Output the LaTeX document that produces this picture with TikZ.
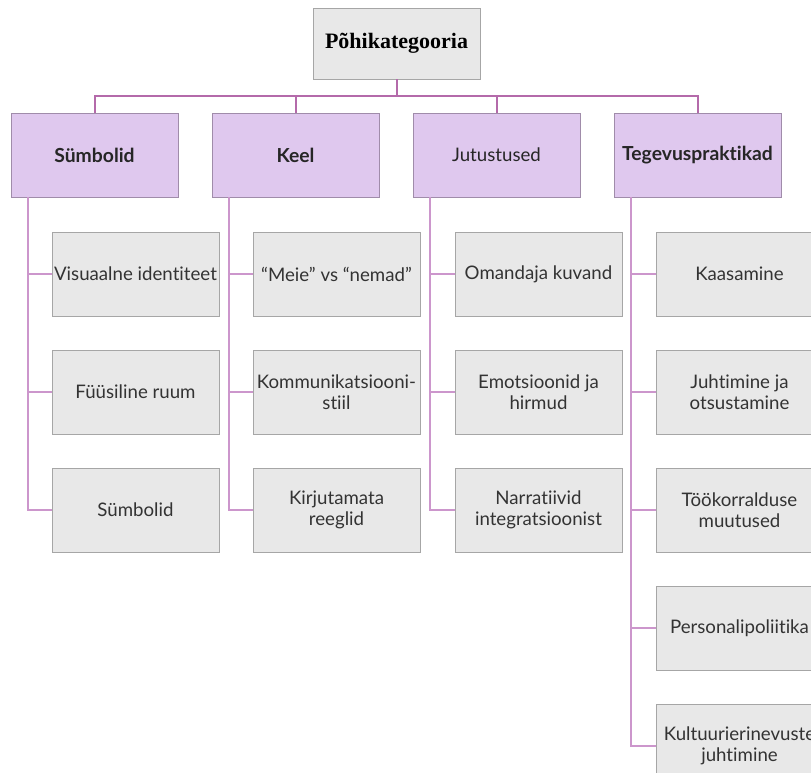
\documentclass[tikz,border=0pt]{standalone}
\usepackage{fontspec}
\setmainfont{Lato}[Ligatures={NoCommon,NoRare}]
\newfontfamily\rootfont{Liberation Serif}
\definecolor{boxgray}{HTML}{E8E8E8}
\definecolor{boxline}{HTML}{A6A6A6}
\definecolor{catfill}{HTML}{DFC8EE}
\definecolor{catline}{HTML}{A08CAA}
\definecolor{buscol}{HTML}{B46AAA}
\definecolor{linkcol}{HTML}{CC96CC}
\begin{document}
\begin{tikzpicture}[x=0.75pt,y=-0.75pt,
  rootbox/.style={draw=boxline,fill=boxgray,minimum width=125.25pt,minimum height=53.25pt,font=\rootfont\bfseries\fontsize{16.5}{19}\selectfont},
  catbox/.style={draw=catline,fill=catfill,minimum width=125.25pt,minimum height=63pt,text=black!85,font=\fontsize{14}{16}\selectfont},
  catbold/.style={catbox,font=\bfseries\fontsize{14.5}{16}\selectfont},
  itembox/.style={draw=boxline,fill=boxgray,minimum width=125.25pt,minimum height=63pt,inner xsep=0.5pt,align=center,text=black!80,font=\fontsize{14}{16}\selectfont},
  bus/.style={draw=buscol,line width=1.5pt},
  link/.style={draw=linkcol,line width=1.5pt}]
\useasboundingbox (0,0) rectangle (811,772);
\clip (0,0) rectangle (811,772);
% top level
\node[rootbox] (root) at (396.5,43.5) {Põhikategooria};
\node[catbold] (c1) at (94.5,155) {Sümbolid};
\node[catbold] (c2) at (295.5,155) {Keel};
\node[catbox] (c3) at (496.5,155) {Jutustused};
\node[catbold] (c4) at (697.5,155) {Tegevuspraktikad};
\foreach \c in {c1,c2,c3,c4}
\draw[bus] (root.south) -- ++(0,17) -| (\c.north);
% children
\foreach \t [count=\i] in {Visuaalne identiteet, Füüsiline ruum, Sümbolid}
\node[itembox] (a\i) at (135.5,{156+118*\i}) {\t};
\foreach \t [count=\i] in {“Meie” vs “nemad”, {Kommunikatsiooni-\\stiil}, {Kirjutamata\\reeglid}}
\node[itembox] (b\i) at (336.5,{156+118*\i}) {\t};
\foreach \t [count=\i] in {Omandaja kuvand, {Emotsioonid ja\\hirmud}, {Narratiivid\\integratsioonist}}
\node[itembox] (d\i) at (538.5,{156+118*\i}) {\t};
\foreach \t [count=\i] in {Kaasamine, {Juhtimine ja\\otsustamine}, {Töökorralduse\\muutused}, Personalipoliitika, {Kultuurierinevuste\\juhtimine}}
\node[itembox] (e\i) at (739.5,{156+118*\i}) {\t};
% connectors
\foreach \i in {1,2,3}
\draw[link] (c1.south west) ++(17,0) |- (a\i.west);
\foreach \i in {1,2,3}
\draw[link] (c2.south west) ++(17,0) |- (b\i.west);
\foreach \i in {1,2,3}
\draw[link] (c3.south west) ++(17,0) |- (d\i.west);
\foreach \i in {1,...,5}
\draw[link] (c4.south west) ++(17,0) |- (e\i.west);
\end{tikzpicture}
\end{document}
